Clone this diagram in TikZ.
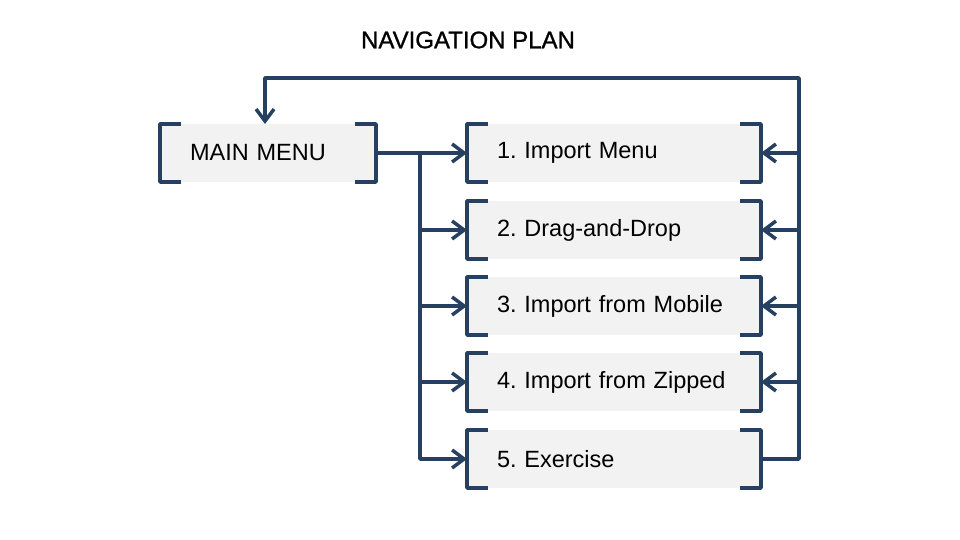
\documentclass[tikz,border=0pt]{standalone}
\usepackage{fontspec}
\setmainfont{Liberation Sans}
\newfontfamily\titlefont{Liberation Sans}[BoldFont=Liberation Sans, BoldFeatures={FakeBold=1}]
\usepackage{tikz}
\usetikzlibrary{arrows.meta}
\usepackage{xcolor}
\definecolor{navy}{RGB}{37,64,97}
\definecolor{boxgray}{RGB}{242,242,242}
\frenchspacing

\begin{document}
\begin{tikzpicture}[x=1pt,y=-1pt,
  font=\fontsize{23.5}{28}\selectfont,
  >={Straight Barb[length=12pt,width=18pt]},
  item/.style={fill=boxgray, outer sep=0pt, inner xsep=30pt, inner ysep=0pt,
    minimum height=58pt, text width=234pt, align=left},
  brk/.style={draw=navy, line width=3.5pt, line join=round},
  link/.style={draw=navy, line width=3.5pt, line join=round}]
\useasboundingbox (0,0) rectangle (960,540);

\node [font=\titlefont\bfseries\fontsize{24}{28}\selectfont] (title) at (468,40) {NAVIGATION PLAN};
\node [item, text width=156pt] (menu) at (268,153) {MAIN MENU};
\node [item] (item1) at (614,153) {1. Import Menu};
\node [item] (item2) at (614,230) {2. Drag-and-Drop};
\node [item] (item3) at (614,306) {3. Import from Mobile};
\node [item] (item4) at (614,382) {4. Import from Zipped};
\node [item] (item5) at (614,459) {5. Exercise};

\foreach \n in {menu,item1,item2,item3,item4,item5} {
  \draw [brk] ([xshift=21pt]\n.north west) -- (\n.north west) -- (\n.south west) -- ([xshift=21pt]\n.south west);
  \draw [brk] ([xshift=-21pt]\n.north east) -- (\n.north east) -- (\n.south east) -- ([xshift=-21pt]\n.south east);
}

\coordinate (bus) at (420,153);
\coordinate (back) at (799,78);

\draw [link,->] (menu.east) -- (item1.west);
\foreach \i in {2,...,5}
  \draw [link,->] (bus) |- (item\i.west);
\foreach \i in {1,...,4}
  \draw [link,->] (item\i.east -| back) -- (item\i.east);
\draw [link,->] (item5.east) -| (back) -| ([xshift=-3pt]menu.north);

\end{tikzpicture}
\end{document}
